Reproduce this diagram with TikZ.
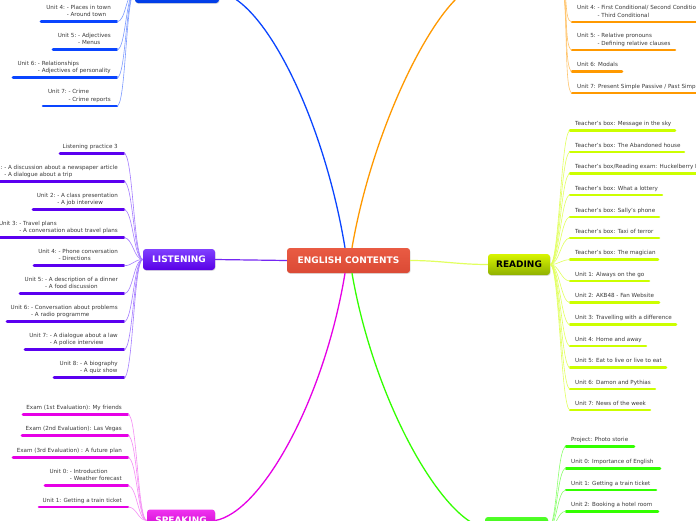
\documentclass[tikz,border=0pt]{standalone}
\usepackage{fontspec}
\setmainfont{DejaVu Sans}
\usetikzlibrary{shadows}
\definecolor{txt}{HTML}{3A3A3A}
\definecolor{ubl}{HTML}{0A45FF}\definecolor{lbl}{HTML}{7D9BFF}
\definecolor{upu}{HTML}{5B00F0}\definecolor{lpu}{HTML}{A57DFF}
\definecolor{uma}{HTML}{E600E6}\definecolor{lma}{HTML}{F58CF5}
\definecolor{uor}{HTML}{FF9900}\definecolor{lor}{HTML}{FFC46B}
\definecolor{uye}{HTML}{CCFF00}\definecolor{lye}{HTML}{E2FF5E}
\definecolor{ugr}{HTML}{33FF00}\definecolor{lgr}{HTML}{8CFF6E}
\definecolor{cenT}{HTML}{E95B43}\definecolor{cenB}{HTML}{DB4A35}
\definecolor{lisT}{HTML}{8040FF}\definecolor{lisB}{HTML}{5800E6}
\definecolor{reaT}{HTML}{D8F500}\definecolor{reaB}{HTML}{8FB000}
\definecolor{bluT}{HTML}{1455FF}\definecolor{bluB}{HTML}{003CE6}
\definecolor{oraT}{HTML}{FFA514}\definecolor{oraB}{HTML}{F58C00}
\definecolor{spkT}{HTML}{F032F0}\definecolor{spkB}{HTML}{C800C8}
\definecolor{grnT}{HTML}{50FF28}\definecolor{grnB}{HTML}{28DC00}
\tikzset{
  ul/.style={line width=2.6pt, line cap=round, draw=#1},
  lc/.style={line width=0.6pt, draw=#1},
  mc/.style={line width=1.3pt, draw=#1},
  lt/.style={font=\fontsize{5.6}{7.4}\selectfont, text=txt, inner sep=0pt},
  mbox/.style={rounded corners=3pt, inner sep=0pt, font=\fontsize{9}{9}\selectfont\bfseries,
    text=white, drop shadow={opacity=0.25, shadow xshift=0.6pt, shadow yshift=-0.9pt}},
}
\newcommand{\gap}{\kern0.32em}
\newcommand{\leafL}[6]{%
  \coordinate (#1) at (#3,#4);
  \draw[ul=#5] (#2,#4) -- (#1);
  \node[lt,anchor=base east] (#1t) at (#3-6,#4-5) {\begin{tabular}[b]{@{}l@{}l@{}}#6\end{tabular}};
}
\newcommand{\leafR}[6]{%
  \coordinate (#1) at (#2,#4);
  \draw[ul=#5] (#1) -- (#3,#4);
  \node[lt,anchor=base west] (#1t) at (#2+5,#4-5) {\begin{tabular}[b]{@{}l@{}l@{}}#6\end{tabular}};
}
\begin{document}
\begin{tikzpicture}[x=1pt,y=-1pt]
\useasboundingbox (0,0) rectangle (696,520);
\fill[white] (0,0) rectangle (696,520);

% main boxes
\node[mbox, minimum width=123pt, minimum height=25pt, top color=cenT, bottom color=cenB] (centre) at (348.5,260.5) {ENGLISH CONTENTS};
\node[mbox, minimum width=72pt, minimum height=21pt, top color=lisT, bottom color=lisB] (listen) at (179,259.5) {LISTENING};
\node[mbox, text=black, minimum width=62pt, minimum height=21pt, top color=reaT, bottom color=reaB] (read) at (519,264.5) {READING};
\node[mbox, minimum width=84pt, minimum height=22pt, top color=bluT, bottom color=bluB] (blue) at (177,-8) {};
\node[mbox, minimum width=84pt, minimum height=22pt, top color=oraT, bottom color=oraB] (orange) at (518,-14) {};
\node[mbox, minimum width=68pt, minimum height=22pt, top color=spkT, bottom color=spkB] (speak) at (181,520.5) {SPEAKING};
\node[mbox, minimum width=63pt, minimum height=22pt, top color=grnT, bottom color=grnB] (green) at (516.5,528) {};

% main connectors
\draw[mc=ubl] ([xshift=-3.5pt]centre.north) .. controls (324,120) and (265,0) .. (blue.east);
\draw[mc=uor] ([xshift=3.5pt]centre.north) .. controls (374,120) and (440,-6) .. (orange.west);
\draw[mc=uma] ([xshift=-3.5pt]centre.south) .. controls (324,401) and (261,512.5) .. (speak.east);
\draw[mc=ugr] ([xshift=3.5pt]centre.south) .. controls (374,401) and (442,520) .. (green.west);
\draw[line width=1.2pt, draw=upu!85] (centre.west) -- (listen.east);
\draw[line width=1.2pt, draw=lye] (centre.east) to[out=0,in=180] (read.west);

% blue leaves
\leafL{b4}{41}{117}{21.7}{ubl}{Unit 4:\gap & - Places in town\\ & - Around town}
\leafL{b5}{53}{117}{49.7}{ubl}{Unit 5:\gap & - Adjectives\\ & - Menus}
\leafL{b6}{13}{117}{77.7}{ubl}{Unit 6:\gap & - Relationships\\ & - Adjectives of personality}
\leafL{b7}{43}{117}{106}{ubl}{Unit 7:\gap & - Crime\\ & - Crime reports}
\foreach \n in {b4,b5,b6,b7} \draw[lc=lbl] (\n) .. controls +(9,0) and +(-9,0) .. (blue.west);

% listening leaves
\leafL{l0}{60}{124}{153.3}{upu}{Listening practice 3}
\leafL{l1}{-40}{124}{181.7}{upu}{Unit 1:\gap & - A discussion about a newspaper article\\ & - A dialogue about a trip}
\leafL{l2}{33}{124}{209.7}{upu}{Unit 2:\gap & - A class presentation\\ & - A job interview}
\leafL{l3}{-3}{124}{237.7}{upu}{Unit 3:\gap & - Travel plans\\ & - A conversation about travel plans}
\leafL{l4}{34}{124}{265.7}{upu}{Unit 4:\gap & - Phone conversation\\ & - Directions}
\leafL{l5}{20}{124}{293.7}{upu}{Unit 5:\gap & - A description of a dinner\\ & - A food discussion}
\leafL{l6}{7}{124}{321.7}{upu}{Unit 6:\gap & - Conversation about problems\\ & - A radio programme}
\leafL{l7}{25}{124}{349.7}{upu}{Unit 7:\gap & - A dialogue about a law\\ & - A police interview}
\leafL{l8}{54}{124}{377.7}{upu}{Unit 8:\gap & - A biography\\ & - A quiz show}
\foreach \n in {l0,l1,l2,l3,l4,l5,l6,l7,l8} \draw[lc=lpu] (\n) .. controls +(9,0) and +(-9,0) .. (listen.west);

% speaking leaves
\leafL{s1}{23}{128}{414.3}{uma}{Exam (1st Evaluation): My friends}
\leafL{s2}{22}{128}{435.7}{uma}{Exam (2nd Evaluation): Las Vegas}
\leafL{s3}{13}{128}{457.7}{uma}{Exam (3rd Evaluation) : A future plan}
\leafL{s4}{45}{128}{485.7}{uma}{Unit 0:\gap & - Introduction\\ & - Weather forecast}
\leafL{s5}{39}{128}{507}{uma}{Unit 1: Getting a train ticket}
\foreach \n in {s1,s2,s3,s4,s5} \draw[lc=lma] (\n) .. controls +(9,0) and +(-9,0) .. (speak.west);

% reading leaves
\leafR{r1}{570}{675}{130.7}{uye}{Teacher's box: Message in the sky}
\leafR{r2}{570}{684}{152}{uye}{Teacher's box: The Abandoned house}
\leafR{r3}{570}{712}{173.7}{uye}{Teacher's box/Reading exam: Huckelberry Finn}
\leafR{r4}{570}{662}{195}{uye}{Teacher's box: What a lottery}
\leafR{r5}{570}{659}{217}{uye}{Teacher's box: Sally's phone}
\leafR{r6}{570}{659}{238}{uye}{Teacher's box: Taxi of terror}
\leafR{r7}{570}{658}{259.7}{uye}{Teacher's box: The magician}
\leafR{r8}{570}{649}{281}{uye}{Unit 1: Always on the go}
\leafR{r9}{570}{659}{302.7}{uye}{Unit 2: AKB48 - Fan Website}
\leafR{r10}{570}{676}{324.7}{uye}{Unit 3: Travelling with a difference}
\leafR{r11}{570}{646}{346}{uye}{Unit 4: Home and away}
\leafR{r12}{570}{666}{367.7}{uye}{Unit 5: Eat to live or live to eat}
\leafR{r13}{570}{655}{389}{uye}{Unit 6: Damon and Pythias}
\leafR{r14}{570}{650}{410}{uye}{Unit 7: News of the week}
\foreach \n in {r1,r2,r3,r4,r5,r6,r7,r8,r9,r10,r11,r12,r13,r14} \draw[lc=lye] (read.east) .. controls +(9,0) and +(-9,0) .. (\n);

% orange leaves
\leafR{o4}{572}{735}{22}{uor}{Unit 4:\gap & - First Conditional/ Second Conditional\\ & - Third Conditional}
\leafR{o5}{572}{675}{50}{uor}{Unit 5:\gap & - Relative pronouns\\ & - Defining relative clauses}
\leafR{o6}{572}{622}{71.3}{uor}{Unit 6: Modals}
\leafR{o7}{572}{740}{93}{uor}{Unit 7: Present Simple Passive / Past Simple Passive}
\foreach \n in {o4,o5,o6,o7} \draw[lc=lor] (orange.east) .. controls +(9,0) and +(-9,0) .. (\n);

% green leaves
\leafR{g1}{566}{634}{446.7}{ugr}{Project: Photo storie}
\leafR{g2}{566}{660}{468.3}{ugr}{Unit 0: Importance of English}
\leafR{g3}{566}{656}{490}{ugr}{Unit 1: Getting a train ticket}
\leafR{g4}{566}{658}{511.3}{ugr}{Unit 2: Booking a hotel room}
\foreach \n in {g1,g2,g3,g4} \draw[lc=lgr] (green.east) .. controls +(9,0) and +(-9,0) .. (\n);
\end{tikzpicture}
\end{document}
